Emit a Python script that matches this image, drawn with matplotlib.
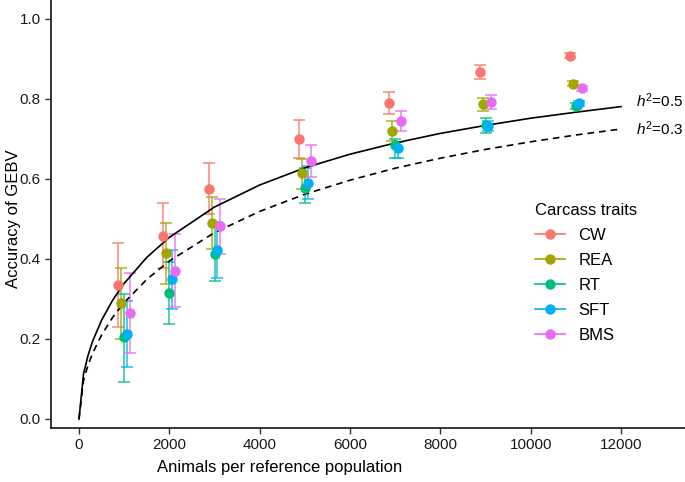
import numpy as np
import matplotlib.pyplot as plt
from matplotlib.lines import Line2D

plt.rcParams['font.family'] = ['Liberation Sans', 'DejaVu Sans']
plt.rcParams['mathtext.fontset'] = 'custom'
plt.rcParams['mathtext.rm'] = 'Liberation Sans'
plt.rcParams['mathtext.it'] = 'Liberation Sans:italic'

# reference population sizes and traits
sizes = [1000, 2000, 3000, 5000, 7000, 9000, 11000]
traits = ["CW", "REA", "RT", "SFT", "BMS"]
colors = ["#F8766D", "#A3A500", "#00BF7D", "#00B0F6", "#E76BF3"]

# accuracy (mean, lower, upper) per trait
acc = {
    "CW":  [0.335, 0.458, 0.575, 0.700, 0.791, 0.868, 0.908],
    "REA": [0.289, 0.414, 0.491, 0.614, 0.721, 0.788, 0.838],
    "RT":  [0.206, 0.314, 0.413, 0.577, 0.685, 0.735, 0.783],
    "SFT": [0.213, 0.349, 0.423, 0.591, 0.678, 0.733, 0.789],
    "BMS": [0.266, 0.371, 0.483, 0.646, 0.746, 0.792, 0.827],
}
lower = {
    "CW":  [0.229, 0.377, 0.512, 0.653, 0.763, 0.850, 0.902],
    "REA": [0.200, 0.338, 0.425, 0.574, 0.695, 0.770, 0.832],
    "RT":  [0.093, 0.237, 0.345, 0.539, 0.652, 0.714, 0.776],
    "SFT": [0.131, 0.274, 0.352, 0.549, 0.652, 0.720, 0.783],
    "BMS": [0.166, 0.281, 0.413, 0.606, 0.721, 0.774, 0.821],
}
upper = {
    "CW":  [0.439, 0.539, 0.639, 0.747, 0.818, 0.885, 0.914],
    "REA": [0.378, 0.489, 0.554, 0.650, 0.746, 0.803, 0.844],
    "RT":  [0.312, 0.393, 0.489, 0.628, 0.700, 0.752, 0.790],
    "SFT": [0.296, 0.423, 0.493, 0.633, 0.693, 0.745, 0.795],
    "BMS": [0.364, 0.462, 0.549, 0.685, 0.770, 0.810, 0.833],
}

# theoretical accuracy curves
curve_n = [0, 100, 200, 300, 500, 750, 1000, 1500, 2000, 3000, 4000, 5000,
           6000, 7000, 8000, 9000, 10000, 11000, 12000]
curve_h05 = [0.0, 0.113, 0.159, 0.194, 0.247, 0.298, 0.339, 0.404, 0.454, 0.530,
             0.585, 0.628, 0.662, 0.690, 0.714, 0.734, 0.752, 0.767, 0.781]
curve_h03 = [0.0, 0.096, 0.135, 0.164, 0.210, 0.255, 0.291, 0.349, 0.395, 0.466,
             0.519, 0.562, 0.597, 0.627, 0.652, 0.674, 0.693, 0.710, 0.725]

fig = plt.figure(figsize=(6.85, 4.82), dpi=100)
ax = fig.add_axes([51 / 685, 54 / 482, 634 / 685, 428 / 482])

ax.plot(curve_n, curve_h05, color="black", lw=1.2, zorder=3)
ax.plot(curve_n, curve_h03, color="black", lw=1.2, ls=(0, (4, 3)), zorder=3)

offsets = [-130, -65, 0, 65, 130]
for t, c, off in zip(traits, colors, offsets):
    x = np.array(sizes) + off
    y = np.array(acc[t])
    err = [y - np.array(lower[t]), np.array(upper[t]) - y]
    ax.errorbar(x, y, yerr=err, fmt="none", ecolor=c, elinewidth=1.2,
                capsize=4.5, capthick=1.2, alpha=0.8, zorder=2)
    ax.plot(x, y, "o", color=c, ms=6.5, zorder=4)

ax.text(12330, 0.797, r"$h^2$=0.5", fontsize=11, va="center", ha="left")
ax.text(12330, 0.727, r"$h^2$=0.3", fontsize=11, va="center", ha="left")

ax.set_xlim(-620, 13416)
ax.set_ylim(-0.0225, 1.0475)
ax.set_xticks([0, 2000, 4000, 6000, 8000, 10000, 12000])
ax.set_yticks([0.0, 0.2, 0.4, 0.6, 0.8, 1.0])
ax.set_yticklabels(["0.0", "0.2", "0.4", "0.6", "0.8", "1.0"])
ax.tick_params(labelsize=11, labelcolor="#1a1a1a", color="#333333",
               length=4, width=1)
for s in ["top", "right"]:
    ax.spines[s].set_visible(False)
for s in ["left", "bottom"]:
    ax.spines[s].set_linewidth(1.1)

ax.set_xlabel("Animals per reference population", fontsize=12)
ax.set_ylabel("Accuracy of GEBV", fontsize=12)
ax.xaxis.set_label_coords((280 - 51) / 634, -0.075)
ax.yaxis.set_label_coords(-0.048, 0.49)

handles = [Line2D([0], [0], color=c, marker="o", ms=6.5, lw=1.2) for c in colors]
leg = ax.legend(handles, traits, title="Carcass traits", loc="upper left",
                bbox_to_anchor=(0.74, 0.561), frameon=False, fontsize=12,
                title_fontsize=12, handlelength=1.8, labelspacing=0.6,
                alignment="left")

fig.savefig("out.png", dpi=100)
